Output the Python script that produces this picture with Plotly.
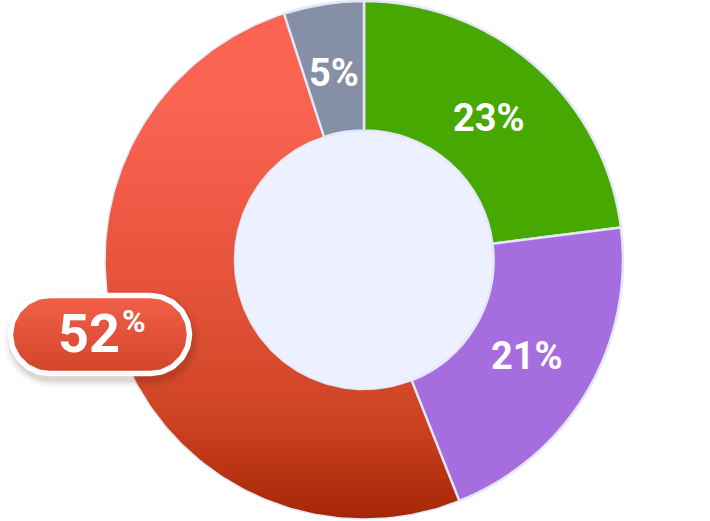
import numpy as np
import plotly.graph_objects as go

# ---------------- data ----------------
categories = ["Segment A", "Segment B", "Segment C", "Segment D"]
values = [23, 21, 51, 5]
pct_labels = ["23%", "21%", "52%", "5%"]
slice_colors = ["#46a800", "#a66ddf", "#e4553a", "#8590a7"]
callout_index = 2  # highlighted slice with gradient + callout

# ---------------- geometry / style ----------------
W, H = 710, 521
CX, CY, R = 364, 260, 259
HOLE = 0.5
LINE_COL = "#e3e7fa"
HOLE_COL = "#edf0fe"
FONT = "Roboto"

total = float(sum(values))
cum = np.concatenate([[0.0], np.cumsum(values)]) / total * 360.0


def pt(theta_deg, r):
    t = np.radians(theta_deg)
    return CX + r * np.sin(t), CY - r * np.cos(t)


fig = go.Figure()

# gradient-filled highlighted sector (drawn below the pie, which is transparent there)
t0, t1 = cum[callout_index], cum[callout_index + 1]
ts = np.linspace(t0, t1, 200)
ox, oy = pt(ts, R)
ix, iy = pt(ts[::-1], R * HOLE)
sx = np.concatenate([ox, ix, ox[:1]])
sy = np.concatenate([oy, iy, oy[:1]])
fig.add_trace(go.Scatter(
    x=sx, y=sy, mode="lines", fill="toself",
    line=dict(color=LINE_COL, width=1.5),
    fillgradient=dict(
        type="vertical", start=CY - R, stop=CY + R,
        colorscale=[[0, "#fb6552"], [0.23, "#f86250"], [0.385, "#f05a46"],
                    [0.635, "#dd4f34"], [0.81, "#cd4321"], [1, "#a52606"]]),
    hoverinfo="skip", showlegend=False))

# ---------------- callout pill ----------------
PX, PY, PHW, PHH = 100, 334.5, 89.5, 39


def pill(cx, cy, hw, hh, n=60):
    r = hh
    a = np.linspace(-90, 90, n)
    rx = (cx + hw - r) + r * np.cos(np.radians(a))
    ry = cy + r * np.sin(np.radians(a))
    lx = (cx - hw + r) - r * np.cos(np.radians(a))
    ly = cy - r * np.sin(np.radians(a))
    xs = np.concatenate([rx, lx, rx[:1]])
    ys = np.concatenate([ry, ly, ry[:1]])
    return xs, ys


# soft shadow
for grow, alpha in [(9, 0.025), (7, 0.035), (5, 0.05), (3, 0.07)]:
    xs, ys = pill(PX + 2, PY + 5, PHW + grow, PHH + grow)
    fig.add_trace(go.Scatter(x=xs, y=ys, mode="lines", fill="toself",
                             fillcolor=f"rgba(60,20,10,{alpha})",
                             line=dict(width=0), hoverinfo="skip",
                             showlegend=False))
xs, ys = pill(PX, PY, PHW, PHH)
fig.add_trace(go.Scatter(
    x=xs, y=ys, mode="lines", fill="toself",
    line=dict(color="white", width=5.5),
    fillgradient=dict(type="vertical", start=PY - PHH, stop=PY + PHH,
                      colorscale=[[0, "#f2604a"], [1, "#d2452a"]]),
    hoverinfo="skip", showlegend=False))

# ---------------- the donut ----------------
pie_colors = list(slice_colors)
pie_colors[callout_index] = "rgba(0,0,0,0)"
line_w = [2.5] * len(values)
line_w[callout_index] = 0
fig.add_trace(go.Pie(
    labels=categories, values=values, sort=False, direction="clockwise",
    rotation=0, hole=HOLE, textinfo="none", hoverinfo="label+percent",
    marker=dict(colors=pie_colors, line=dict(color=LINE_COL, width=line_w)),
    domain=dict(x=[(CX - R) / W, (CX + R) / W],
                y=[(H - CY - R) / H, (H - CY + R) / H]),
    showlegend=False))

# hole fill
fig.add_shape(type="circle", xref="x", yref="y", layer="below",
              x0=CX - R * HOLE, x1=CX + R * HOLE,
              y0=CY - R * HOLE, y1=CY + R * HOLE,
              fillcolor=HOLE_COL, line=dict(width=0))

# ---------------- labels ----------------
R_LAB = 189
for i, lab in enumerate(pct_labels):
    if i == callout_index:
        continue
    mid = (cum[i] + cum[i + 1]) / 2
    lx, ly = pt(mid, R_LAB)
    fig.add_annotation(x=lx, y=ly, xref="x", yref="y", text=lab,
                       showarrow=False, xanchor="center", yanchor="middle",
                       font=dict(family=FONT, size=38, color="white",
                                 weight="bold"))

num, pct = pct_labels[callout_index].rstrip("%"), "%"
fig.add_annotation(x=PX - 11, y=PY - 1, xref="x", yref="y", text=num,
                   showarrow=False, xanchor="center", yanchor="middle",
                   font=dict(family=FONT, size=54, color="white", weight="bold"))
fig.add_annotation(x=PX + 33.5, y=PY - 14, xref="x", yref="y", text=pct,
                   showarrow=False, xanchor="center", yanchor="middle",
                   font=dict(family=FONT, size=32, color="white", weight="bold"))

fig.update_layout(
    width=W, height=H, margin=dict(l=0, r=0, t=0, b=0, pad=0),
    paper_bgcolor="white", plot_bgcolor="rgba(0,0,0,0)",
    xaxis=dict(range=[0, W], visible=False, fixedrange=True),
    yaxis=dict(range=[H, 0], visible=False, fixedrange=True),
    showlegend=False, hovermode=False)

fig.write_html("out.html", config={"displayModeBar": False},
               post_script="document.body.style.margin='0';")
